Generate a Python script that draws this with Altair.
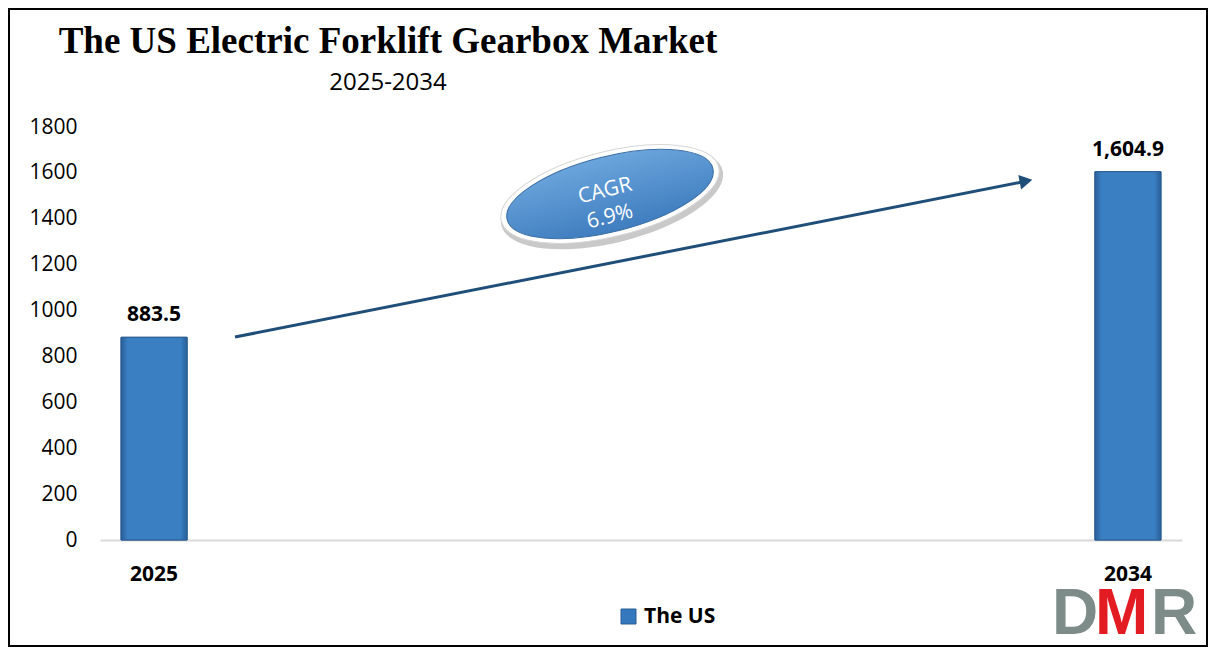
import altair as alt
import pandas as pd

# ---------------- data ----------------
YEARS = ["2025", "2034"]
VALUES = [883.5, 1604.9]
SERIES = ["The US", "The US"]
Y_TICKS = [0, 200, 400, 600, 800, 1000, 1200, 1400, 1600, 1800]

TITLE = "The US Electric Forklift Gearbox Market"
SUBTITLE = "2025-2034"
CAGR_LINES = ["CAGR", "6.9%"]
LOGO = ["D", "M", "R"]

df = pd.DataFrame({"year": YEARS, "value": VALUES, "series": SERIES})

W, H = 1082, 413
FONT = "Open Sans"

x_enc = alt.X("year:N", sort=YEARS,
              scale=alt.Scale(paddingInner=0.9322, paddingOuter=0.0216),
              axis=alt.Axis(title=None, labelAngle=0, ticks=False,
                            labelFont=FONT, labelFontSize=21, labelFontWeight="bold",
                            labelColor="black", labelPadding=23,
                            domainColor="#d9d9d9", domainWidth=2))
y_enc = alt.Y("value:Q",
              scale=alt.Scale(domain=[0, 1800], nice=False),
              axis=alt.Axis(title=None, values=Y_TICKS, grid=False, ticks=False,
                            domain=False, labelFont=FONT, labelFontSize=21, format="d",
                            labelColor="black", labelPadding=23))

base = alt.Chart(df)

bars_legend = base.mark_bar(stroke="#2b5d91", strokeWidth=1).encode(
    x=x_enc, y=y_enc,
    color=alt.Color("series:N",
                    scale=alt.Scale(range=["#3479be"]),
                    legend=alt.Legend(title=None, orient="none", legendX=518, legendY=479,
                                      symbolType="square", symbolSize=225,
                                      symbolStrokeColor="#2b5d91", symbolStrokeWidth=1,
                                      labelFont=FONT, labelFontSize=21,
                                      labelFontWeight="bold", labelColor="black",
                                      labelOffset=5)),
)

bar_grad = {
    "gradient": "linear", "x1": 0, "x2": 1, "y1": 0, "y2": 0,
    "stops": [
        {"offset": 0, "color": "#2a5f9a"},
        {"offset": 0.1, "color": "#3a7fc2"},
        {"offset": 0.9, "color": "#3a7fc2"},
        {"offset": 1, "color": "#2a5f9a"},
    ],
}
bars = base.mark_bar(color=bar_grad, stroke="#2b5d91", strokeWidth=1).encode(x=x_enc, y=y_enc)

labels = base.mark_text(font=FONT, fontSize=21, fontWeight="bold", color="black",
                        baseline="alphabetic", dy=-16).encode(
    x=x_enc, y=y_enc, text=alt.Text("value:Q", format=",.1f"))

one = pd.DataFrame({"k": [0]})

arrow_line = alt.Chart(one).mark_rule(color="#1f4e79", strokeWidth=3).encode(
    x=alt.value(135), y=alt.value(210), x2=alt.value(922), y2=alt.value(55))
arrow_head = alt.Chart(one).mark_point(shape="triangle-right", filled=True, opacity=1,
                                       color="#1f4e79", size=220, angle=349).encode(
    x=alt.value(926), y=alt.value(54))

k = 0.5523


def ellipse_path(ry):
    return (f"M 1 0 C 1 {k*ry:.4f} {k:.4f} {ry} 0 {ry} "
            f"C {-k:.4f} {ry} -1 {k*ry:.4f} -1 0 "
            f"C -1 {-k*ry:.4f} {-k:.4f} {-ry} 0 {-ry} "
            f"C {k:.4f} {-ry} 1 {-k*ry:.4f} 1 0 Z")


CX, CY, ANG = 510, 67, 346
shadow = alt.Chart(one).mark_point(shape=ellipse_path(0.39), filled=True, opacity=1,
                                   color="#c9c9c9", size=228 ** 2, angle=ANG).encode(
    x=alt.value(CX + 2), y=alt.value(CY + 4))
white_ell = alt.Chart(one).mark_point(shape=ellipse_path(0.38), filled=True, opacity=1,
                                      fill="white", stroke="#d6d6d6", strokeWidth=1,
                                      size=224 ** 2, angle=ANG).encode(
    x=alt.value(CX), y=alt.value(CY))
ell_grad = {
    "gradient": "linear", "x1": 0, "x2": 0, "y1": 0, "y2": 1,
    "stops": [{"offset": 0, "color": "#6ba5dc"}, {"offset": 1, "color": "#3f7dbf"}],
}
blue_ell = alt.Chart(one).mark_point(shape=ellipse_path(0.355), filled=True, opacity=1,
                                     fill=ell_grad, stroke="#3a6ea6", strokeWidth=1,
                                     size=212 ** 2, angle=ANG).encode(
    x=alt.value(CX), y=alt.value(CY))
cagr1 = alt.Chart(one).mark_text(text=CAGR_LINES[0], font=FONT, fontSize=21, color="white",
                                 align="center", baseline="middle", angle=ANG).encode(
    x=alt.value(505), y=alt.value(64))
cagr2 = alt.Chart(one).mark_text(text=CAGR_LINES[1], font=FONT, fontSize=21, color="white",
                                 align="center", baseline="middle", angle=ANG).encode(
    x=alt.value(510), y=alt.value(90))

title = alt.Chart(one).mark_text(text=TITLE, font="Liberation Serif", fontSize=37,
                                 fontWeight="bold", color="black", align="center",
                                 baseline="alphabetic").encode(
    x=alt.value(288), y=alt.value(-74))
subtitle = alt.Chart(one).mark_text(text=SUBTITLE, font=FONT, fontSize=24, color="black",
                                    align="center", baseline="alphabetic").encode(
    x=alt.value(288), y=alt.value(-37))

logo_colors = ["#7d8b89", "#e31b23", "#7d8b89"]
logo_x = [952, 995, 1051]
logo_layers = []
for letter, col, lx in zip(LOGO, logo_colors, logo_x):
    logo_layers.append(
        alt.Chart(one).mark_text(text=letter, font="Liberation Sans", fontSize=64,
                                 fontWeight="bold", color=col, align="left",
                                 baseline="alphabetic").encode(
            x=alt.value(lx), y=alt.value(507)))

border = alt.Chart(one).mark_rect(fillOpacity=0, stroke="black", strokeWidth=2).encode(
    x=alt.value(-91), x2=alt.value(1107), y=alt.value(-118), y2=alt.value(519))

chart = alt.layer(
    bars_legend, bars, labels, arrow_line, arrow_head,
    shadow, white_ell, blue_ell, cagr1, cagr2, title, subtitle, *logo_layers, border
).properties(
    width=W, height=H,
    autosize=alt.AutoSizeParams(type="none"),
    padding={"left": 92, "top": 119, "right": 26, "bottom": 108},
    background="white",
).configure_view(stroke=None)

chart.save("out.html", embed_options={"renderer": "svg", "actions": False})
